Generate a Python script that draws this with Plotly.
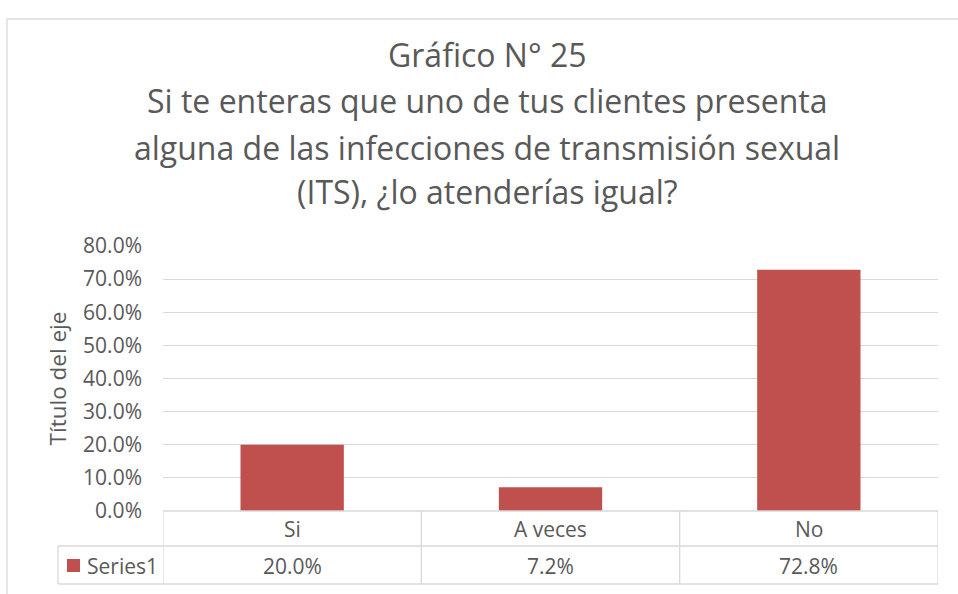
import plotly.graph_objects as go

categories = ["Si", "A veces", "No"]
values = [0.200, 0.072, 0.728]
series_name = "Series1"
title_lines = [
    "Gráfico N° 25",
    "Si te enteras que uno de tus clientes presenta",
    "alguna de las infecciones de transmisión sexual",
    "(ITS), ¿lo atenderías igual?",
]
y_title = "Título del eje"

W, H = 958, 594
L, R, T, B = 163, 20, 246, 83
FONT = "Open Sans"
TXT = "#595959"
GRID = "#D9D9D9"
BAR = "#C0504D"


def px_x(p):
    return (p - L) / (W - L - R)


def px_y(p):
    return (H - B - p) / (H - T - B)


fig = go.Figure()
fig.add_trace(go.Bar(
    x=list(range(len(categories))),
    y=values,
    marker=dict(color=BAR, line=dict(width=0)),
    width=0.4,
    name=series_name,
    hoverinfo="skip",
))

shapes = []
line_style = dict(color=GRID, width=1.3)
# table horizontal lines
shapes.append(dict(type="line", xref="paper", yref="paper", x0=0, x1=1, y0=px_y(511), y1=px_y(511), line=line_style))
for yy in (546, 584):
    shapes.append(dict(type="line", xref="paper", yref="paper", x0=px_x(58), x1=1, y0=px_y(yy), y1=px_y(yy), line=line_style))
shapes.append(dict(type="line", xref="paper", yref="paper", x0=px_x(58), x1=px_x(58), y0=px_y(546), y1=px_y(584), line=line_style))
# category boundaries
for i in range(len(categories) + 1):
    shapes.append(dict(type="line", xref="x", yref="paper", x0=i - 0.5, x1=i - 0.5, y0=px_y(511), y1=px_y(584), line=line_style))
# legend key
shapes.append(dict(type="rect", xref="paper", yref="paper", x0=px_x(67), x1=px_x(80), y0=px_y(572), y1=px_y(559),
                   fillcolor=BAR, line=dict(width=0)))
# chart frame
shapes.append(dict(type="line", xref="paper", yref="paper", x0=px_x(7), x1=px_x(7), y0=px_y(19), y1=px_y(700), line=line_style))
shapes.append(dict(type="line", xref="paper", yref="paper", x0=px_x(7), x1=px_x(1000), y0=px_y(19), y1=px_y(19), line=line_style))

annotations = []
title_centers = [55, 101, 147, 191]
for line, cy in zip(title_lines, title_centers):
    annotations.append(dict(text=line, xref="paper", yref="paper", x=px_x(487), y=px_y(cy),
                            xanchor="center", yanchor="middle", showarrow=False,
                            font=dict(family=FONT, size=32, color=TXT)))
for i, (c, v) in enumerate(zip(categories, values)):
    annotations.append(dict(text=c, xref="x", yref="paper", x=i, y=px_y(528.5), xanchor="center", yanchor="middle",
                            showarrow=False, font=dict(family=FONT, size=21, color=TXT)))
    annotations.append(dict(text=f"{v * 100:.1f}%", xref="x", yref="paper", x=i, y=px_y(566), xanchor="center",
                            yanchor="middle", showarrow=False, font=dict(family=FONT, size=21, color=TXT)))
annotations.append(dict(text=series_name, xref="paper", yref="paper", x=px_x(85), y=px_y(566), xanchor="left",
                        yanchor="middle", showarrow=False, font=dict(family=FONT, size=21, color=TXT)))

fig.update_layout(
    width=W, height=H,
    margin=dict(l=L, r=R, t=T, b=B, autoexpand=False),
    paper_bgcolor="white", plot_bgcolor="white",
    showlegend=False,
    font=dict(family=FONT, color=TXT, size=21),
    xaxis=dict(range=[-0.5, len(categories) - 0.5], showticklabels=False, showgrid=False, zeroline=False,
               showline=False, fixedrange=True),
    yaxis=dict(range=[0, 0.8], dtick=0.1, tickformat=".1%", showgrid=True, gridcolor=GRID, gridwidth=1.3,
               zeroline=False, showline=False, ticks="", ticklabelstandoff=20,
               tickfont=dict(family=FONT, size=21, color=TXT),
               title=dict(text=y_title, font=dict(family=FONT, size=22.5, color=TXT), standoff=10),
               automargin=False, fixedrange=True),
    shapes=shapes,
    annotations=annotations,
)

fig.write_html("out.html", config={"displayModeBar": False},
               post_script="document.body.style.margin='0';")
